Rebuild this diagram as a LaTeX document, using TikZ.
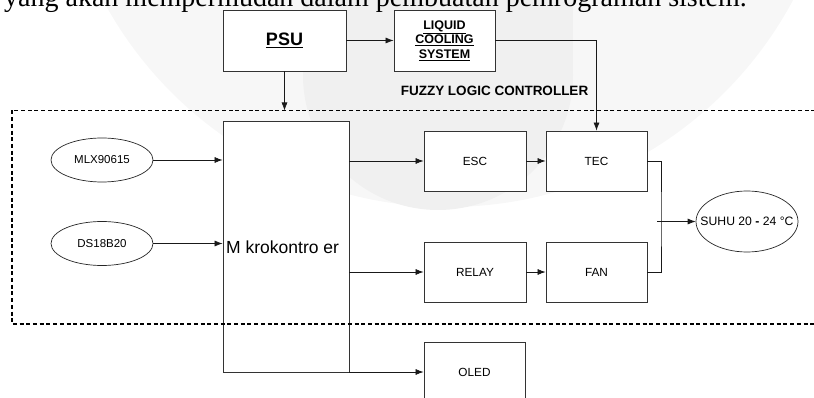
\documentclass[tikz,border=0pt]{standalone}
\usepackage{fontspec}
\setmainfont{Liberation Sans}
\newfontfamily\halserif{Liberation Serif}
\usetikzlibrary{arrows.meta,shapes.geometric,positioning}

\tikzset{
  blok/.style={draw=black!80, line width=0.8pt, fill=white, minimum width=101pt, minimum height=60pt, inner sep=0pt, font=\fontsize{11.8}{13}\selectfont},
  sensor/.style={ellipse, draw=black!85, line width=0.7pt, fill=white, minimum width=102pt, minimum height=44pt, inner sep=0pt, font=\fontsize{11.5}{13}\selectfont},
  panah/.style={-{Latex[length=8pt,width=6pt]}, line width=0.7pt, draw=black!90},
  garis/.style={line width=0.7pt, draw=black!90}
}

\begin{document}
\begin{tikzpicture}[x=1pt,y=-1pt]
      \useasboundingbox (0,0) rectangle (814,398);
      \clip (0,0) rectangle (814,398);
      % watermark di latar
      \fill[gray!6] (448,-184) circle (391);
      \fill[gray!12] (303,0) rectangle (573,75);
      \fill[gray!12] (438,75) circle (135);
      \node[anchor=base west, inner sep=0pt, font=\halserif\fontsize{28}{30}\selectfont] (kalimat) at (4,7) {yang akan mempermudah dalam pembuatan pemrograman sistem.};
      % blok atas
      \node[blok, minimum width=123pt, minimum height=61pt, font=\bfseries\fontsize{18}{20}\selectfont] (psu) at (284.5,40.5) {\underline{PSU}};
      \node[blok, minimum height=61pt, align=center, font=\bfseries\fontsize{12.5}{14.5}\selectfont] (cooling) at (444.5,40.5) {\underline{LIQUID}\\\underline{COOLING}\\\underline{SYSTEM}};
      \node[font=\bfseries\fontsize{13.5}{15}\selectfont] (fuzzy) at (494.5,91) {FUZZY LOGIC CONTROLLER};
      % sensor dan mikrokontroler
      \node[sensor] (mlx) at (102,160) {MLX90615};
      \node[sensor] (ds) at (102,243.5) {DS18B20};
      \node[blok, minimum width=126pt, minimum height=251pt] (mikro) at (286,246.5) {};
      \node[anchor=west, inner sep=0pt, font=\fontsize{17.5}{19}\selectfont] (mikroText) at (226,247) {M krokontro er};
      % aktuator
      \node[blok, minimum width=102pt] (esc) at (475,161) {ESC};
      \node[blok] (tec) at (596.5,161) {TEC};
      \node[blok, minimum width=102pt] (relay) at (475,272) {RELAY};
      \node[blok] (fan) at (596.5,272) {FAN};
      \node[blok] (oled) at (474.5,372) {OLED};
      \node[ellipse, draw=black!85, line width=0.7pt, fill=white, minimum width=102pt, minimum height=61pt, inner sep=0pt] (suhu) at (747,221.5) {};
      \node[font=\fontsize{12.2}{14}\selectfont, inner sep=0pt] (suhuText) at (suhu) {SUHU 20 \textbf{-} 24 °C};
      % kotak fuzzy logic controller
      \draw[line width=1.2pt, dash pattern=on 4pt off 2.7pt] (12,110.5) rectangle (830,324);
      \coordinate (fzTop) at (284.5,110.5);
      \coordinate (gabung) at (661,221.5);
      % panah
      \draw[panah] (psu.south) -- (fzTop);
      \draw[panah] (psu.east) -- (cooling.west);
      \draw[panah] (cooling.east) -| (tec.north);
      \draw[panah] (mlx.east) -- (mlx.east -| mikro.west);
      \draw[panah] (ds.east) -- (ds.east -| mikro.west);
      \draw[panah] (esc.west -| mikro.east) -- (esc.west);
      \draw[panah] (relay.west -| mikro.east) -- (relay.west);
      \draw[panah] (oled.west -| mikro.east) -- (oled.west);
      \draw[panah] (esc) -- (tec);
      \draw[panah] (relay) -- (fan);
      \draw[garis] (tec.east) -| (gabung) |- (fan.east);
      \draw[panah] ([xshift=-4pt]gabung) -- (suhu.west);
\end{tikzpicture}
\end{document}
